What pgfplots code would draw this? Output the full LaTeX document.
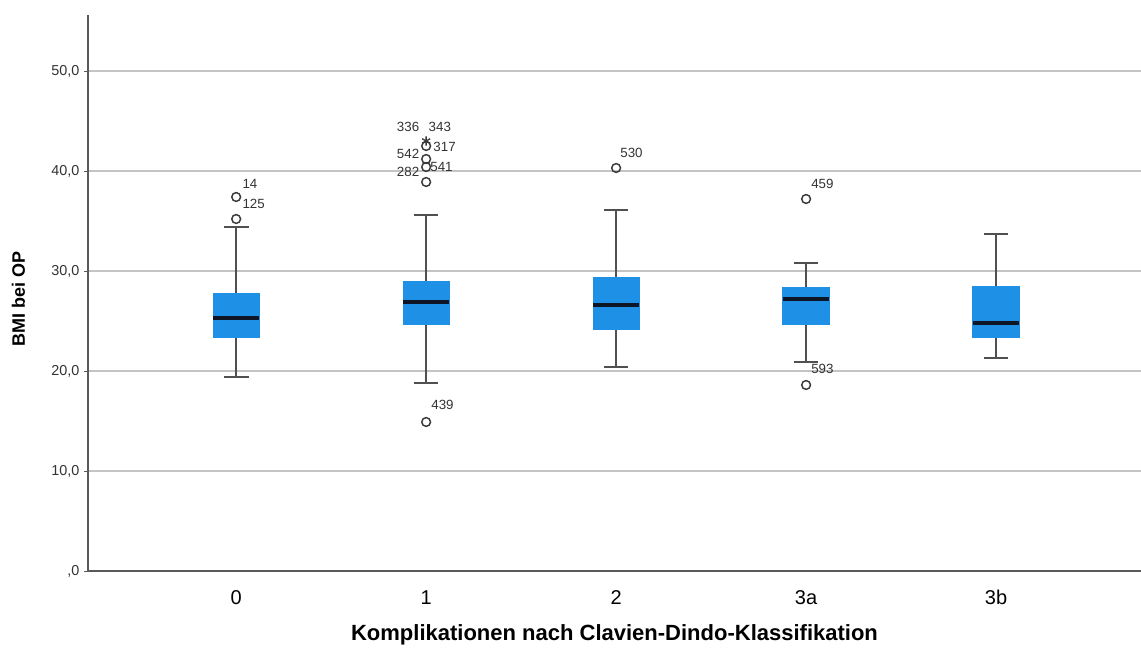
\documentclass[border=0pt]{standalone}
\usepackage{pgfplots}
\pgfplotsset{compat=1.18}
\usepgfplotslibrary{statistics}
\usetikzlibrary{calc}
\usepackage{fontspec}
\setmainfont{Liberation Sans}
\definecolor{boxblue}{HTML}{1E90E6}
\definecolor{whiskgray}{HTML}{505050}
\definecolor{mediancol}{HTML}{0E1626}
\definecolor{gridgray}{HTML}{C4C4C4}
\definecolor{axisgray}{HTML}{5A5A5A}
\definecolor{markgray}{HTML}{3A3A3A}
\definecolor{labelgray}{HTML}{333333}
\tikzset{olab/.style={font=\fontsize{10}{12}\selectfont, text=labelgray, anchor=west, inner sep=0pt}}
\begin{document}
\begin{tikzpicture}
\begin{axis}[
  name=ax,
  scale only axis, width=789.75pt, height=417pt,
  xmin=-0.78, xmax=4.763, ymin=0, ymax=55.6,
  axis lines*=left,
  axis line style={draw=axisgray, line width=0.8pt},
  xtick={0,1,2,3,4}, xticklabels={0,1,2,3a,3b},
  major x tick style={draw=none},
  ytick={0,10,20,30,40,50},
  yticklabels={{,0},{10,0},{20,0},{30,0},{40,0},{50,0}},
  major y tick style={draw=axisgray, line width=0.6pt},
  tick align=outside, major tick length=3pt,
  ymajorgrids, grid style={draw=gridgray, line width=0.8pt},
  y tick label style={font=\fontsize{10.8}{12}\selectfont, text=labelgray},
  x tick label style={font=\fontsize{15}{18}\selectfont, text=black, anchor=base, yshift=-22.5pt},
  xlabel={Komplikationen nach Clavien-Dindo-Klassifikation},
  xlabel style={font=\bfseries\fontsize{16.5}{19}\selectfont, at={(axis description cs:0.5,-0.1151)}, anchor=center},
  ylabel={BMI bei OP},
  ylabel style={font=\bfseries\fontsize{13.5}{15}\selectfont, at={(axis description cs:-0.066,0.489)}, anchor=center},
  clip=false,
  boxplot/draw direction=y,
  boxplot/box extend=0.245,
  boxplot/whisker extend=0.13,
  boxplot/every box/.style={fill=boxblue, draw=boxblue, line width=0.5pt},
  boxplot/every whisker/.style={draw=whiskgray, line width=1.1pt},
  boxplot/every median/.style={draw=mediancol, line width=2.3pt},
  outl/.style={only marks, mark=o, mark size=3.3pt, mark options={draw=markgray, fill=white, line width=1.1pt}},
]
% boxes
\addplot[boxplot prepared={lower whisker=19.4, lower quartile=23.4, median=25.3, upper quartile=27.8, upper whisker=34.4, draw position=0}] coordinates {};
\addplot[boxplot prepared={lower whisker=18.8, lower quartile=24.7, median=26.9, upper quartile=29.0, upper whisker=35.6, draw position=1}] coordinates {};
\addplot[boxplot prepared={lower whisker=20.4, lower quartile=24.2, median=26.6, upper quartile=29.4, upper whisker=36.1, draw position=2}] coordinates {};
\addplot[boxplot prepared={lower whisker=20.9, lower quartile=24.7, median=27.2, upper quartile=28.4, upper whisker=30.8, draw position=3}] coordinates {};
\addplot[boxplot prepared={lower whisker=21.3, lower quartile=23.4, median=24.8, upper quartile=28.5, upper whisker=33.7, draw position=4}] coordinates {};
% outliers
\addplot[outl] coordinates {(0,37.4) (0,35.2)};
\addplot[outl] coordinates {(1,42.5) (1,41.2) (1,40.4) (1,38.9) (1,14.9)};
\addplot[outl] coordinates {(2,40.3)};
\addplot[outl] coordinates {(3,37.2) (3,18.6)};
% extremes
\addplot[only marks, mark=asterisk, mark size=3.5pt, mark options={draw=markgray, line width=1pt}] coordinates {(1,43.0)};
% labels
\node[olab] at (axis cs:0.032,38.7) {14};
\node[olab] at (axis cs:0.032,36.7) {125};
\node[olab] at (axis cs:0.845,44.4) {336};
\node[olab] at (axis cs:1.012,44.4) {343};
\node[olab] at (axis cs:0.845,41.7) {542};
\node[olab] at (axis cs:1.037,42.4) {317};
\node[olab] at (axis cs:0.845,39.9) {282};
\node[olab] at (axis cs:1.021,40.4) {541};
\node[olab] at (axis cs:1.026,16.6) {439};
\node[olab] at (axis cs:2.021,41.8) {530};
\node[olab] at (axis cs:3.026,38.7) {459};
\node[olab] at (axis cs:3.026,20.2) {593};
\end{axis}
\pgfresetboundingbox
\path ($(ax.south west)+(-66pt,-57.75pt)$) rectangle ($(ax.north east)+(0pt,11.25pt)$);
\end{tikzpicture}
\end{document}
